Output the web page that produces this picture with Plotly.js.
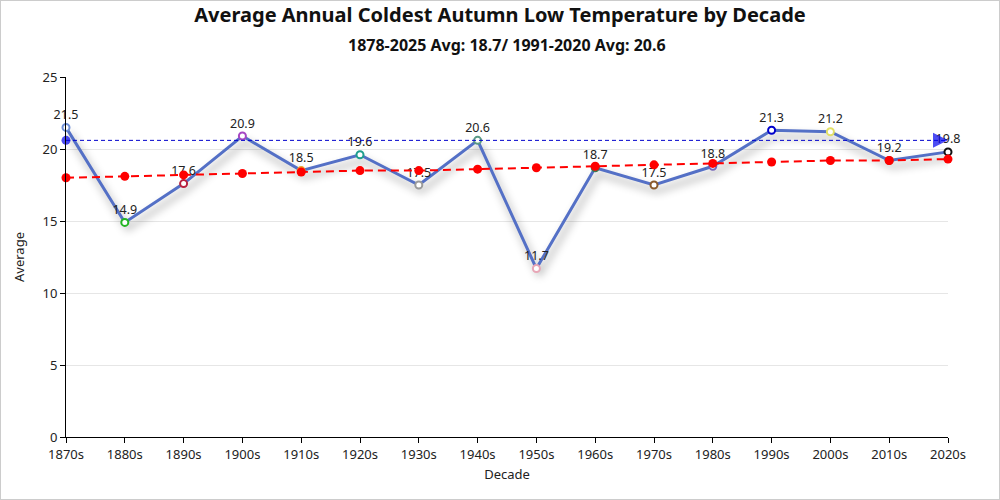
<!DOCTYPE html>
<html>
<head>
<meta charset="utf-8">
<script src="https://cdn.plot.ly/plotly-3.0.1.min.js"></script>
<style>
  html, body { margin: 0; padding: 0; background: #fff; }
  #chart { width: 998px; height: 498px; border: 1px solid #cccccc; }
  .shadowed .js-line { filter: drop-shadow(3px 6px 4px rgba(0,0,0,0.4)); }
</style>
</head>
<body>
<div id="chart"></div>
<script>
const decades = ['1870s','1880s','1890s','1900s','1910s','1920s','1930s','1940s','1950s','1960s','1970s','1980s','1990s','2000s','2010s','2020s'];
const averages = [21.5, 14.9, 17.6, 20.9, 18.5, 19.6, 17.5, 20.6, 11.7, 18.7, 17.5, 18.8, 21.3, 21.2, 19.2, 19.8];
const trendValues = [18.0, 18.1, 18.2, 18.3, 18.4, 18.5, 18.5, 18.6, 18.7, 18.8, 18.9, 19.0, 19.1, 19.2, 19.2, 19.3];
const markerColors = ['#6f8fd6','#22b522','#b8203e','#a646c4','#f0a22a','#1f9e8e','#9a9a9a','#5a9a86','#e8a6b6','#3d7a52','#8b5a2b','#7566b8','#0000cc','#e2e066','#a05a3a','#111111'];
const refAverage = 20.6;
const titleText = 'Average Annual Coldest Autumn Low Temperature by Decade';
const subtitleText = '1878-2025 Avg: 18.7/ 1991-2020 Avg: 20.6';

const font = 'Microsoft YaHei, "Noto Sans", "Open Sans", sans-serif';

const mainTrace = {
  x: decades, y: averages, type: 'scatter', mode: 'lines+markers+text',
  text: averages.map(v => v.toFixed(1)), textposition: 'top center',
  textfont: { size: 12.5, color: '#222', family: font },
  line: { color: '#5470c6', width: 3 },
  marker: { symbol: 'circle', size: 7, color: '#ffffff', line: { color: markerColors, width: 2 } },
  cliponaxis: false, showlegend: false, hoverinfo: 'x+y'
};

const refTrace = {
  x: [decades[0], decades[decades.length - 1]], y: [refAverage, refAverage],
  type: 'scatter', mode: 'lines+markers',
  line: { color: '#0000cc', width: 1, dash: '4px,3px' },
  marker: { symbol: ['circle', 'arrow-right'], size: [9, 15], color: '#0000ee', line: { width: 0 } },
  cliponaxis: false, showlegend: false, hoverinfo: 'y'
};

const trendTrace = {
  x: decades, y: trendValues, type: 'scatter', mode: 'lines+markers',
  line: { color: '#ff0000', width: 2, dash: '8px,5px' },
  marker: { symbol: 'circle', size: 9, color: '#ff0000' },
  cliponaxis: false, showlegend: false, hoverinfo: 'y'
};

const layout = {
  width: 998, height: 498,
  margin: { l: 65, r: 51, t: 76, b: 62 },
  paper_bgcolor: '#ffffff', plot_bgcolor: '#ffffff',
  font: { family: font, color: '#222', size: 12 },
  title: { text: '<b>' + titleText + '</b>', x: 0.5, xanchor: 'center', y: 0.985, yanchor: 'top', font: { size: 20, color: '#111', family: font } },
  annotations: [{ text: '<b>' + subtitleText + '</b>', xref: 'paper', yref: 'paper', x: 0.5, y: 1, yshift: 32, xanchor: 'center', yanchor: 'middle', showarrow: false, font: { size: 16, color: '#111', family: font } }],
  xaxis: {
    type: 'category', range: [0, 15], showgrid: false, zeroline: false,
    showline: true, linecolor: '#000', linewidth: 1, ticks: 'outside', ticklen: 5, tickcolor: '#000',
    tickfont: { size: 13, color: '#222' },
    title: { text: 'Decade', font: { size: 13, color: '#222' }, standoff: 8 }
  },
  yaxis: {
    range: [0, 25], dtick: 5, showgrid: true, gridcolor: '#e6e6e6', zeroline: false,
    showline: true, linecolor: '#000', linewidth: 1, ticks: 'outside', ticklen: 5, tickcolor: '#000',
    tickfont: { size: 13, color: '#222' },
    title: { text: 'Average', font: { size: 13, color: '#222' }, standoff: 14 }
  }
};

Plotly.newPlot('chart', [mainTrace, refTrace, trendTrace], layout, { displayModeBar: false, staticPlot: true }).then(() => {
  const traces = document.querySelectorAll('.scatterlayer .trace');
  if (traces[0]) traces[0].classList.add('shadowed');
});
</script>
</body>
</html>
